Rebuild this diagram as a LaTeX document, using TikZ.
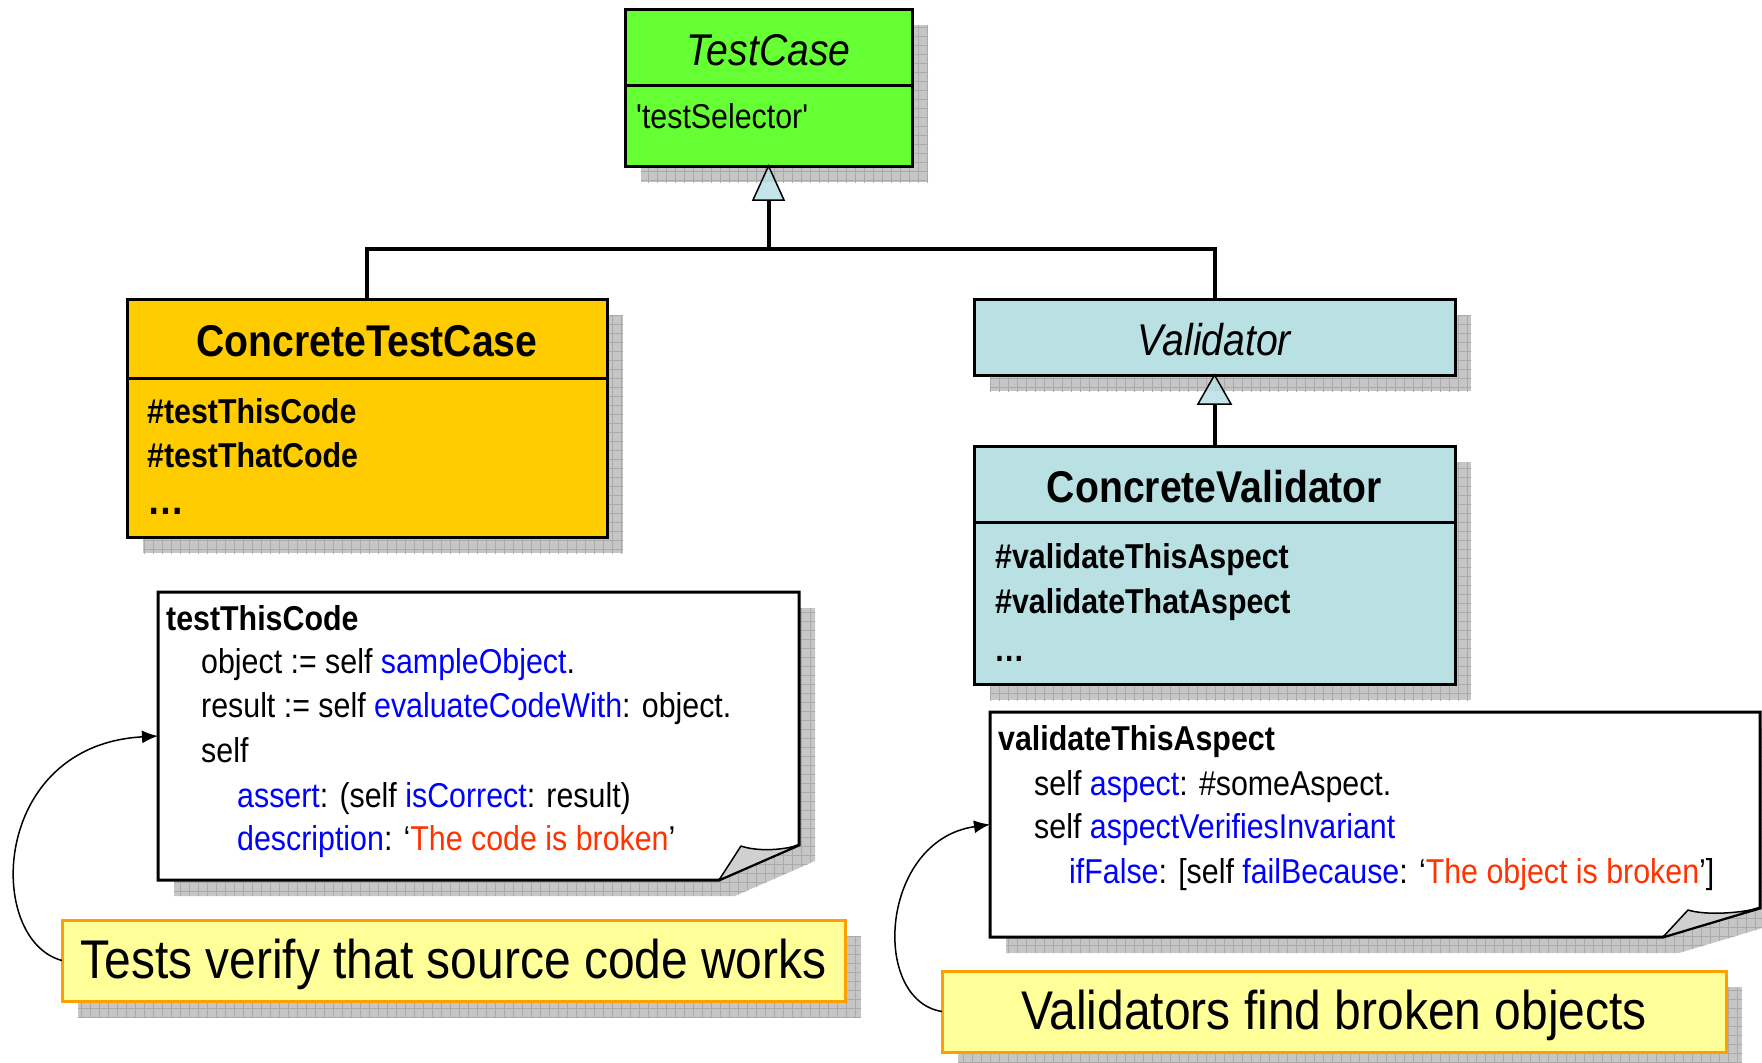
\documentclass[tikz,border=0pt]{standalone}
\usepackage{fontspec}
\newfontfamily\uf{Liberation Sans}[FakeStretch=0.88]
\usetikzlibrary{arrows.meta}
\definecolor{tcgreen}{RGB}{102,255,51}
\definecolor{ctcyellow}{RGB}{255,204,0}
\definecolor{vblue}{RGB}{185,224,227}
\definecolor{capfill}{RGB}{255,255,153}
\definecolor{capdraw}{RGB}{255,160,0}
\definecolor{kwblue}{RGB}{0,0,255}
\definecolor{kwred}{RGB}{255,51,0}
\definecolor{shfill}{RGB}{198,198,198}
\definecolor{shgrid}{RGB}{170,170,170}
\definecolor{flapgray}{RGB}{208,208,208}
\newcommand\kb[1]{\textcolor{kwblue}{#1}}
\newcommand\kr[1]{\textcolor{kwred}{#1}}
\newcommand\shadowshape[1]{\begin{scope}\clip #1;\fill[shfill] #1;\draw[shgrid,line width=0.6pt,step=9pt] (0,0) grid (1800,1100);\end{scope}}
\tikzset{
  umlbox/.style={draw=black, line width=3pt, inner sep=0pt, outer sep=0pt, anchor=north west},
  titleit/.style={font={\uf\itshape\fontsize{44.5}{50}\selectfont}, text height=36pt, text depth=0pt},
  titlebf/.style={font={\uf\bfseries\fontsize{44.5}{50}\selectfont}, text height=36pt, text depth=0pt},
  bodytxt/.style={font={\uf\fontsize{34.5}{40}\selectfont}, anchor=base west, inner sep=0pt},
  bodybf/.style={font={\uf\bfseries\fontsize{34.5}{40}\selectfont}, anchor=base west, inner sep=0pt},
  conn/.style={line width=4pt, line join=miter},
  gentri/.style={draw=black, line width=1.5pt, fill=vblue, fill opacity=0.85, line join=miter},
  captionbox/.style={draw=capdraw, fill=capfill, line width=3pt, inner sep=0pt, outer sep=0pt, anchor=north west, font={\uf\fontsize{54.5}{60}\selectfont}, text height=35pt, text depth=0pt},
  noteanchor/.style={inner sep=0pt, outer sep=0pt, anchor=north west},
  noteline/.style={draw=black, line width=3pt, fill=white, line join=miter},
  flap/.style={draw=black, line width=1.5pt, fill=flapgray, line join=round},
  curvearrow/.style={line width=1.5pt, -{Latex[length=16pt,width=13pt]}}
}
\begin{document}
\begin{tikzpicture}[x=1pt, y=-1pt]
\useasboundingbox (0,0) rectangle (1762,1063);
% shadows
\shadowshape{(641,25) rectangle (928,182)}
\shadowshape{(143,315) rectangle (623,553)}
\shadowshape{(990,315) rectangle (1471,391)}
\shadowshape{(990,462) rectangle (1471,700)}
\shadowshape{(174,608) -- (815,608) -- (815,861) -- (735,896) -- (174,896) -- cycle}
\shadowshape{(1006,728) -- (1776,728) -- (1776,924) -- (1679,953) -- (1006,953) -- cycle}
\shadowshape{(78,936) rectangle (861,1017)}
\shadowshape{(958,987) rectangle (1742,1068)}
% class boxes
\node[umlbox, fill=tcgreen, minimum width=287pt, minimum height=76pt, titleit] (tct) at (625,9) {TestCase};
\node[umlbox, fill=tcgreen, minimum width=287pt, minimum height=81pt] (tcb) at (625,85) {};
\node[umlbox, fill=ctcyellow, minimum width=480pt, minimum height=79pt, titlebf] (ctct) at (127,299) {ConcreteTestCase};
\node[umlbox, fill=ctcyellow, minimum width=480pt, minimum height=159pt] (ctcb) at (127,378) {};
\node[umlbox, fill=vblue, minimum width=481pt, minimum height=76pt, titleit] (valt) at (974,299) {Validator};
\node[umlbox, fill=vblue, minimum width=481pt, minimum height=76pt, titlebf] (cvt) at (974,446) {ConcreteValidator};
\node[umlbox, fill=vblue, minimum width=481pt, minimum height=162pt] (cvb) at (974,522) {};
% generalization connectors
\coordinate (j) at ([yshift=-83pt]tcb.south);
\draw[conn] (ctct.north) |- (j) -| (valt.north);
\draw[conn] (j) -- ([yshift=-34pt]tcb.south);
\draw[gentri] (tcb.south) -- ++(-15.5,34) -- ++(31,0) -- cycle;
\draw[conn] (cvt.north) -- ([yshift=-29pt]valt.south);
\draw[gentri] (valt.south) -- ++(-16.5,29) -- ++(33,0) -- cycle;
% class texts
\node[bodytxt] (tsel) at (636,128) {\symbol{39}testSelector\symbol{39}};
\node[bodybf] (m1) at (147,423) {\#testThisCode};
\node[bodybf] (m2) at (147,467) {\#testThatCode};
\node[bodybf, font={\uf\bfseries\fontsize{42}{48}\selectfont}] (m3) at (147,514) {…};
\node[bodybf] (v1) at (995,568) {\#validateThisAspect};
\node[bodybf] (v2) at (995,613) {\#validateThatAspect};
\node[bodybf] (v3) at (994,661) {…};
% notes
\node[noteanchor, minimum width=641pt, minimum height=288pt] (note1) at (158,592) {};
\draw[noteline] (note1.north west) -- (note1.north east) -- ([yshift=35pt]note1.south east) -- ([xshift=-80pt]note1.south east) -- (note1.south west) -- cycle;
\draw[flap] ([xshift=-80pt]note1.south east) -- ([shift={(-58pt,34pt)}]note1.south east) .. controls ([shift={(-44pt,29pt)}]note1.south east) and ([shift={(-19pt,29pt)}]note1.south east) .. ([yshift=35pt]note1.south east) -- cycle;
\node[noteanchor, minimum width=770pt, minimum height=225pt] (note2) at (990,712) {};
\draw[noteline] (note2.north west) -- (note2.north east) -- ([yshift=29pt]note2.south east) -- ([xshift=-97pt]note2.south east) -- (note2.south west) -- cycle;
\draw[flap] ([xshift=-97pt]note2.south east) -- ([shift={(-72pt,27pt)}]note2.south east) .. controls ([shift={(-56pt,22pt)}]note2.south east) and ([shift={(-24pt,23pt)}]note2.south east) .. ([yshift=29pt]note2.south east) -- cycle;
% note texts
\node[bodybf] (n1a) at (166,630) {testThisCode};
\node[bodytxt] (n1b) at (201,673) {object := self \kb{sampleObject}.};
\node[bodytxt] (n1c) at (201,717) {result := self \kb{evaluateCodeWith}: object.};
\node[bodytxt] (n1d) at (201,762) {self};
\node[bodytxt] (n1e) at (237,807) {\kb{assert}: (self \kb{isCorrect}: result)};
\node[bodytxt] (n1f) at (237,850) {\kb{description}: ‘\kr{The code is broken}’};
\node[bodybf] (n2a) at (998,750) {validateThisAspect};
\node[bodytxt] (n2b) at (1034,795) {self \kb{aspect}: \#someAspect.};
\node[bodytxt] (n2c) at (1034,838) {self \kb{aspectVerifiesInvariant}};
\node[bodytxt] (n2d) at (1069,883) {\kb{ifFalse}: [self \kb{failBecause}: ‘\kr{The object is broken}’]};
% captions
\node[captionbox, minimum width=783pt, minimum height=81pt] (cap1) at (62,920) {Tests verify that source code works};
\node[captionbox, minimum width=784pt, minimum height=81pt] (cap2) at (942,971) {Validators find broken objects};
% curved arrows
\draw[curvearrow] (cap1.west) .. controls (-15,940) and (-10,745) .. (note1.west);
\draw[curvearrow] (cap2.west) .. controls (870,1000) and (880,840) .. (note2.west);
\end{tikzpicture}
\end{document}
